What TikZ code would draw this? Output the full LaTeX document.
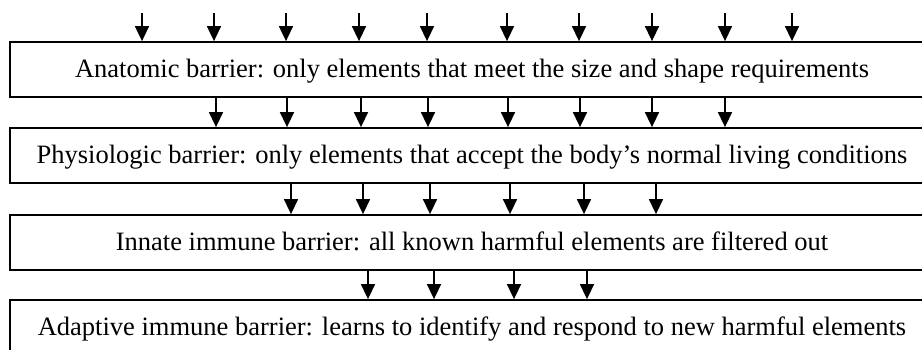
\documentclass[tikz,border=0pt]{standalone}
\usepackage{fontspec}
\setmainfont{Liberation Serif}
\usetikzlibrary{arrows.meta}
\begin{document}
\begin{tikzpicture}[x=1pt,y=-1pt,
  barrier/.style={draw, line width=1.8pt, minimum width=924pt, minimum height=55pt,
    inner sep=0pt, font=\fontsize{26.5}{31}\selectfont, text height=15pt, text depth=0pt},
  flow/.style={line width=1.5pt, -{Triangle[length=15pt,width=14pt]}}]
\useasboundingbox (0,0) rectangle (922,349);
\clip (0,0) rectangle (922,349);
\node[barrier] (b1) at (472,69.5) {Anatomic barrier: only elements that meet the size and shape requirements};
\node[barrier] (b2) at (472,155.5) {Physiologic barrier: only elements that accept the body’s normal living conditions};
\node[barrier] (b3) at (472,242.5) {Innate immune barrier: all known harmful elements are filtered out};
\node[barrier] (b4) at (472,327.5) {Adaptive immune barrier: learns to identify and respond to new harmful elements};
\foreach \x [count=\i] in {142,214,286,359,427,507,579,652,725,792} {
  \coordinate (in\i) at (\x,13);
  \draw[flow] (in\i) -- (b1.north -| in\i);
}
\foreach \x [count=\i] in {216,287,361,428,508,580,652,725} {
  \coordinate (p\i) at (\x,0);
  \draw[flow] (b1.south -| p\i) -- (b2.north -| p\i);
}
\foreach \x [count=\i] in {291,363,430,510,584,656} {
  \coordinate (q\i) at (\x,0);
  \draw[flow] (b2.south -| q\i) -- (b3.north -| q\i);
}
\foreach \x [count=\i] in {368,434,514,587} {
  \coordinate (r\i) at (\x,0);
  \draw[flow] (b3.south -| r\i) -- (b4.north -| r\i);
}
\end{tikzpicture}
\end{document}
